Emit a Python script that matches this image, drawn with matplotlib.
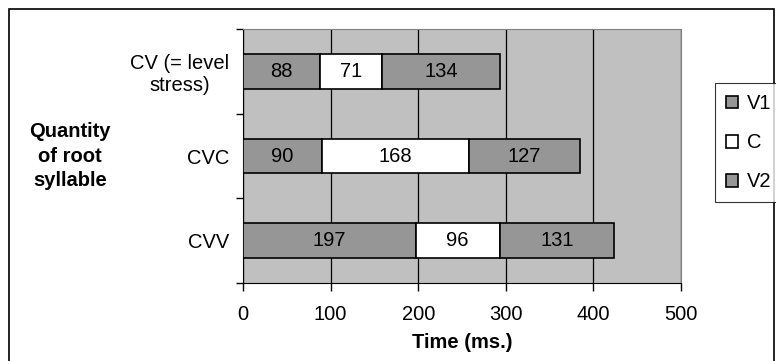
import matplotlib.pyplot as plt
from matplotlib.patches import Rectangle
import numpy as np

plt.rcParams['font.family'] = ['Liberation Sans', 'DejaVu Sans']

categories = ["CV (= level\nstress)", "CVC", "CVV"]
series_names = ["V1", "C", "V2"]
v1 = [88, 90, 197]
c = [71, 168, 96]
v2 = [134, 127, 131]
colors = ["#969696", "#ffffff", "#969696"]

fs = 14.5

fig = plt.figure(figsize=(7.76, 3.61), dpi=100)
ax = fig.add_axes([243/776, 1 - 283/361, 438/776, 254/361])
ax.set_facecolor("#c0c0c0")

y = np.arange(len(categories))
left = np.zeros(len(categories))
handles = []
for name, vals, col in zip(series_names, [v1, c, v2], colors):
    bars = ax.barh(y, vals, left=left, height=0.41, color=col,
                   edgecolor="black", linewidth=1.2, label=name, zorder=3)
    for yi, li, v in zip(y, left, vals):
        ax.text(li + v / 2, yi, str(v), ha="center", va="center",
                fontsize=fs, zorder=4)
    left = left + np.array(vals)
    handles.append(bars)

ax.set_xlim(0, 500)
ax.set_ylim(len(categories) - 0.5, -0.5)
ax.set_xticks([0, 100, 200, 300, 400, 500])
ax.xaxis.grid(True, color="black", linewidth=0.9, zorder=1)
ax.set_axisbelow(True)

# category ticks sit between categories, labels at centres
ax.set_yticks(y)
ax.set_yticklabels(categories, fontsize=fs, multialignment="center")
ax.set_yticks(np.arange(-0.5, len(categories), 1), minor=True)
ax.tick_params(axis="y", which="major", length=0, pad=10)
ax.tick_params(axis="y", which="minor", length=5, width=1)
ax.tick_params(axis="x", length=6, width=1, labelsize=fs, pad=10)

for s in ["top", "right"]:
    ax.spines[s].set_color("#808080")
ax.spines["left"].set_color("black")
ax.spines["bottom"].set_color("black")

ax.set_xlabel("Time (ms.)", fontsize=fs, fontweight="bold", labelpad=6)
fig.text(70/776, 1 - 156/361, "Quantity\nof root\nsyllable", ha="center",
         va="center", fontsize=fs, fontweight="bold", linespacing=1.35)

leg = fig.legend(handles=handles, loc="upper left",
                 bbox_to_anchor=(715/776, 1 - 83/361), fontsize=fs,
                 frameon=True, fancybox=False, edgecolor="black",
                 handlelength=0.6, handleheight=0.6, handletextpad=0.45,
                 labelspacing=1.0, borderpad=0.55, borderaxespad=0)
leg.get_frame().set_linewidth(0.8)

# outer chart border
fig.patches.append(Rectangle((9/776, -0.05), 765/776, 1.05 - 9/361,
                             transform=fig.transFigure, fill=False,
                             edgecolor="black", linewidth=1.2))

fig.savefig("out.png", dpi=100)
